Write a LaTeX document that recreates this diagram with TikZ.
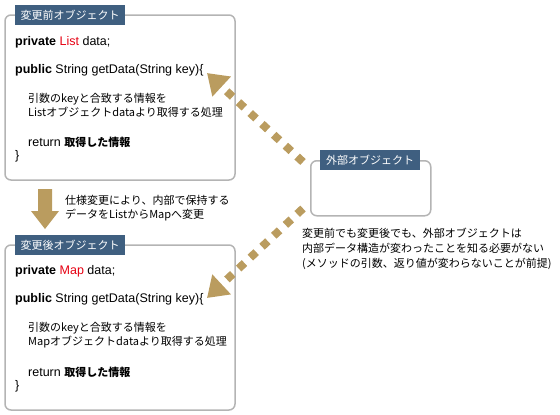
\documentclass[tikz,border=0pt]{standalone}
\usepackage{fontspec}
\setmainfont{Liberation Sans}
\newfontfamily\jpfont{Noto Sans CJK JP}
\usetikzlibrary{positioning,arrows.meta}
\definecolor{titleblue}{HTML}{3F5F80}
\definecolor{arrowgold}{HTML}{BA9C5F}
\definecolor{framegray}{HTML}{B4B4B4}
\definecolor{typered}{HTML}{E60012}
\tikzset{
  objframe/.style={draw=framegray,line width=1.5pt,rounded corners=6pt},
  objtitle/.style={fill=titleblue,text=white,font=\jpfont\fontsize{11}{13}\selectfont,minimum height=20pt,inner sep=0pt,anchor=north west},
  codeline/.style={anchor=west,inner sep=0pt,font=\fontsize{12.5}{14}\selectfont},
  jpline/.style={anchor=west,inner sep=0pt,align=left,font=\jpfont\fontsize{11}{14}\selectfont},
  infoarrow/.style={arrowgold,line width=8pt,dash pattern=on 8pt off 8pt,-{Triangle[length=20pt,width=26pt]}}
}
\begin{document}
\begin{tikzpicture}[x=1pt,y=-1pt]
  \useasboundingbox (0,0) rectangle (560,415);
  % object before the change
  \draw[objframe] (5,15) rectangle (235,180);
  \node[objtitle,minimum width=110pt] (before) at (15,5) {変更前オブジェクト};
  \node[codeline] (priv1) at (15,42) {\textbf{private} \textcolor{typered}{List} data;};
  \node[codeline] (pub1) at (15,70) {\textbf{public} String getData(String key)\{};
  \node[jpline] (proc1) at (28,105.5) {引数のkeyと合致する情報を\\Listオブジェクトdataより取得する処理};
  \node[codeline] (ret1) at (28,142) {return {\jpfont\fontsize{11}{13}\selectfont\bfseries 取得した情報}};
  \node[codeline] (close1) at (15,156) {\}};
  \coordinate (tip1) at (207,73);
  % change arrow
  \fill[arrowgold] (38,189) -- (52,189) -- (52,211) -- (59,211) -- (45,229) -- (31,211) -- (38,211) -- cycle;
  \node[jpline] (changenote) at (65,208) {仕様変更により、内部で保持する\\データをListからMapへ変更};
  % object after the change
  \draw[objframe] (5,245) rectangle (235,410);
  \node[objtitle,minimum width=110pt] (after) at (15,235) {変更後オブジェクト};
  \node[codeline] (priv2) at (15,271) {\textbf{private} \textcolor{typered}{Map} data;};
  \node[codeline] (pub2) at (15,299) {\textbf{public} String getData(String key)\{};
  \node[jpline] (proc2) at (28,335) {引数のkeyと合致する情報を\\Mapオブジェクトdataより取得する処理};
  \node[codeline] (ret2) at (28,372) {return {\jpfont\fontsize{11}{13}\selectfont\bfseries 取得した情報}};
  \node[codeline] (close2) at (15,386) {\}};
  \coordinate (tip2) at (207,298);
  % external object
  \node[objframe,minimum width=120pt,minimum height=55pt,anchor=north west] (ext) at (310,160) {};
  \node[objtitle,minimum width=100pt] (exttitle) at (320,150) {外部オブジェクト};
  \node[jpline,font=\jpfont\fontsize{11}{15}\selectfont] (extnote) at (302,249) {変更前でも変更後でも、外部オブジェクトは\\内部データ構造が変わったことを知る必要がない\\(メソッドの引数、返り値が変わらないことが前提)};
  \draw[infoarrow] ([xshift=-7pt,yshift=-2pt]ext.north west) -- (tip1);
  \draw[infoarrow] ([xshift=-7pt,yshift=8pt]ext.south west) -- (tip2);
\end{tikzpicture}
\end{document}
